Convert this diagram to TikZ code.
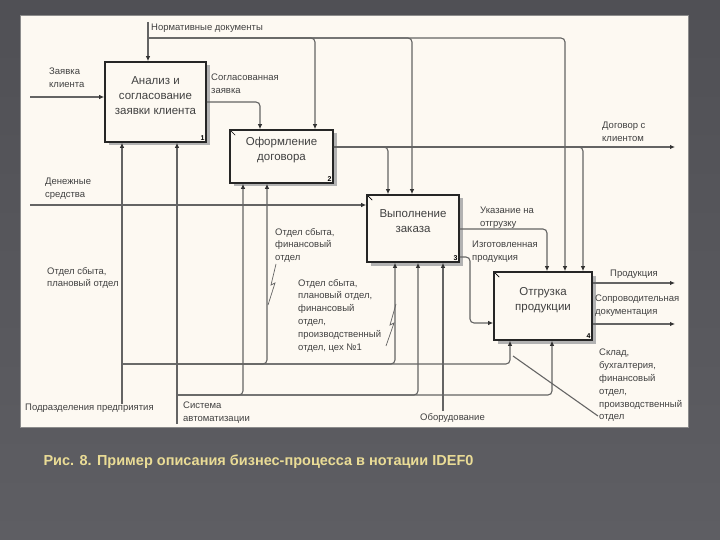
\documentclass[tikz,border=0pt]{standalone}
\usepackage{fontspec}
\setmainfont{Liberation Sans}
\usepackage{tikz}
\usetikzlibrary{arrows.meta, shapes, shadows, positioning}
\definecolor{panelcream}{RGB}{253, 249, 242}
\definecolor{linegray}{RGB}{100, 100, 100}
\definecolor{textgray}{RGB}{65, 65, 65}
\definecolor{slidegray}{RGB}{94, 94, 99}
\definecolor{slidedark}{RGB}{80, 80, 85}
\definecolor{captionyellow}{RGB}{234, 220, 150}

\begin{document}
\begin{tikzpicture}[x=1pt, y=-1pt,
    blok/.style={draw=black!85, line width=1.6pt, fill=panelcream, inner sep=0pt,
      drop shadow={shadow xshift=3.5pt, shadow yshift=-3.5pt, fill=black!30, opacity=1}},
    btxt/.style={align=center, font=\fontsize{11.5}{15}\selectfont, text=textgray},
    lbl/.style={align=left, anchor=north west, inner sep=0pt, font=\fontsize{9.5}{12.8}\selectfont, text=textgray},
    num/.style={anchor=south east, inner sep=2pt, font=\fontsize{7}{8}\selectfont\bfseries},
    arr/.style={draw=linegray, line width=1.1pt, -{Latex[length=5pt, width=4.5pt, color=black!80]}},
    line/.style={draw=linegray, line width=1.1pt}]
        \useasboundingbox (0,0) rectangle (720,540);
        % фон и лист
        \shade[top color=slidedark, bottom color=slidegray] (0,0) rectangle (720,540);
        \draw[black!45, fill=panelcream] (20,15) rectangle (688,427);

        % блоки
        \node[blok, minimum width=101pt, minimum height=80pt] (b1) at (155.5,102) {};
        \node[blok, minimum width=103pt, minimum height=53pt] (b2) at (281.5,156.5) {};
        \node[blok, minimum width=92pt, minimum height=67pt] (b3) at (413,228.5) {};
        \node[blok, minimum width=98pt, minimum height=68pt] (b4) at (543,306) {};
        \node[btxt] (t1) at ([yshift=6pt]b1.center) {Анализ и\\согласование\\заявки клиента};
        \node[btxt] (t2) at ([yshift=6pt]b2.center) {Оформление\\договора};
        \node[btxt] (t3) at ([yshift=7pt]b3.center) {Выполнение\\заказа};
        \node[btxt] (t4) at ([yshift=6pt]b4.center) {Отгрузка\\продукции};
        \node[num] (n1) at (b1.south east) {1};
        \node[num] (n2) at (b2.south east) {2};
        \node[num] (n3) at (b3.south east) {3};
        \node[num] (n4) at (b4.south east) {4};
        % метки в углу
        \foreach \b in {b2, b3, b4}
            \draw[line width=0.7pt] ([shift={(2,2)}]\b.north west) -- ++(4,4);

        % управление
        \coordinate (nd0) at (148,22);
        \coordinate (nd1) at (148,38);
        \coordinate (nd2) at (315,38);
        \coordinate (nd3) at (412,38);
        \coordinate (nd4) at (565,38);
        \draw[arr] (nd0) -- (nd0 |- b1.north);
        \draw[arr, rounded corners=4pt] (nd1) -| (nd4 |- b4.north);
        \draw[arr, rounded corners=4pt] (nd1) -| (nd2 |- b2.north);
        \draw[arr, rounded corners=4pt] (nd1) -| (nd3 |- b3.north);
        \node[lbl] (ndl) at (151,24) {Нормативные документы};

        % входы
        \coordinate (zk0) at (30,97);
        \coordinate (ds0) at (30,205);
        \draw[arr] (zk0) -- (zk0 -| b1.west);
        \draw[arr] (ds0) -- (ds0 -| b3.west);
        \node[lbl] (zkl) at (49,68) {Заявка\\клиента};
        \node[lbl] (dsl) at (45,178) {Денежные\\средства};

        % выходы блоков
        \coordinate (sz1) at (260,102);
        \draw[arr, rounded corners=4pt] (b1.east) -| (sz1 |- b2.north);
        \node[lbl] (szl) at (211,74) {Согласованная\\заявка};

        \coordinate (dk1) at (675,147);
        \coordinate (dk2) at (388,147);
        \coordinate (dk3) at (583,147);
        \draw[arr] (dk1 -| b2.east) -- (dk1);
        \draw[arr, rounded corners=4pt] (dk1 -| b2.east) -| (dk2 |- b3.north);
        \draw[arr, rounded corners=4pt] (dk1 -| b2.east) -| (dk3 |- b4.north);
        \node[lbl] (dkl) at (602,122) {Договор с\\клиентом};

        \coordinate (uo1) at (547,229);
        \draw[arr, rounded corners=4pt] (uo1 -| b3.east) -| (uo1 |- b4.north);
        \node[lbl] (uol) at (480,207) {Указание на\\отгрузку};

        \coordinate (iz1) at (470,257);
        \coordinate (iz2) at (470,323);
        \draw[arr, rounded corners=4pt] (iz1 -| b3.east) -- (iz1) -- (iz2) -- (iz2 -| b4.west);
        \node[lbl] (izl) at (472,241) {Изготовленная\\продукция};

        \coordinate (pr1) at (675,283);
        \coordinate (sd1) at (675,324);
        \draw[arr] (pr1 -| b4.east) -- (pr1);
        \draw[arr] (sd1 -| b4.east) -- (sd1);
        \node[lbl] (prl) at (610,270) {Продукция};
        \node[lbl] (sdl) at (595,295) {Сопроводительная\\документация};

        % механизмы
        \coordinate (pp0) at (122,404);
        \coordinate (pp1) at (122,364);
        \coordinate (pp2) at (510,364);
        \coordinate (pp3) at (267,364);
        \coordinate (pp4) at (395,364);
        \draw[arr] (pp0) -- (pp0 |- b1.south);
        \draw[arr, rounded corners=4pt] (pp1) -| (pp2 |- b4.south);
        \draw[arr, rounded corners=4pt] (pp1) -| (pp3 |- b2.south);
        \draw[arr, rounded corners=4pt] (pp1) -| (pp4 |- b3.south);
        \node[lbl] (ppl) at (25,404) {Подразделения предприятия};

        \coordinate (sa0) at (177,424);
        \coordinate (sa1) at (177,395);
        \coordinate (sa2) at (552,395);
        \coordinate (sa3) at (243,395);
        \coordinate (sa4) at (418,395);
        \draw[arr] (sa0) -- (sa0 |- b1.south);
        \draw[arr, rounded corners=4pt] (sa1) -| (sa2 |- b4.south);
        \draw[arr, rounded corners=4pt] (sa1) -| (sa3 |- b2.south);
        \draw[arr, rounded corners=4pt] (sa1) -| (sa4 |- b3.south);
        \node[lbl] (sal) at (183,402) {Система\\автоматизации};

        \coordinate (ob0) at (443,411);
        \draw[arr] (ob0) -- (ob0 |- b3.south);
        \node[lbl] (obl) at (420,413) {Оборудование};

        \coordinate (sk0) at (598,416);
        \coordinate (sk1) at (513,356);
        \draw[line] (sk0) -- (sk1);
        \node[lbl] (skl) at (599,349) {Склад,\\бухгалтерия,\\финансовый\\отдел,\\производственный\\отдел};

        % подписи механизмов
        \node[lbl] (os1) at (47,267) {Отдел сбыта,\\плановый отдел};
        \node[lbl] (os2) at (275,228) {Отдел сбыта,\\финансовый\\отдел};
        \node[lbl] (os3) at (298,279) {Отдел сбыта,\\плановый отдел,\\финансовый\\отдел,\\производственный\\отдел, цех №1};
        \draw[line, line width=0.7pt] (276,264) -- (271,285) -- (275,283) -- (268,305);
        \draw[line, line width=0.7pt] (396,304) -- (390,325) -- (394,323) -- (386,346);

        % подпись
        \node[anchor=west, font=\fontsize{14.5}{16}\selectfont\bfseries, text=captionyellow] (cap) at (40,462) {Рис. 8. Пример описания бизнес-процесса в нотации IDEF0};
\end{tikzpicture}
\end{document}
